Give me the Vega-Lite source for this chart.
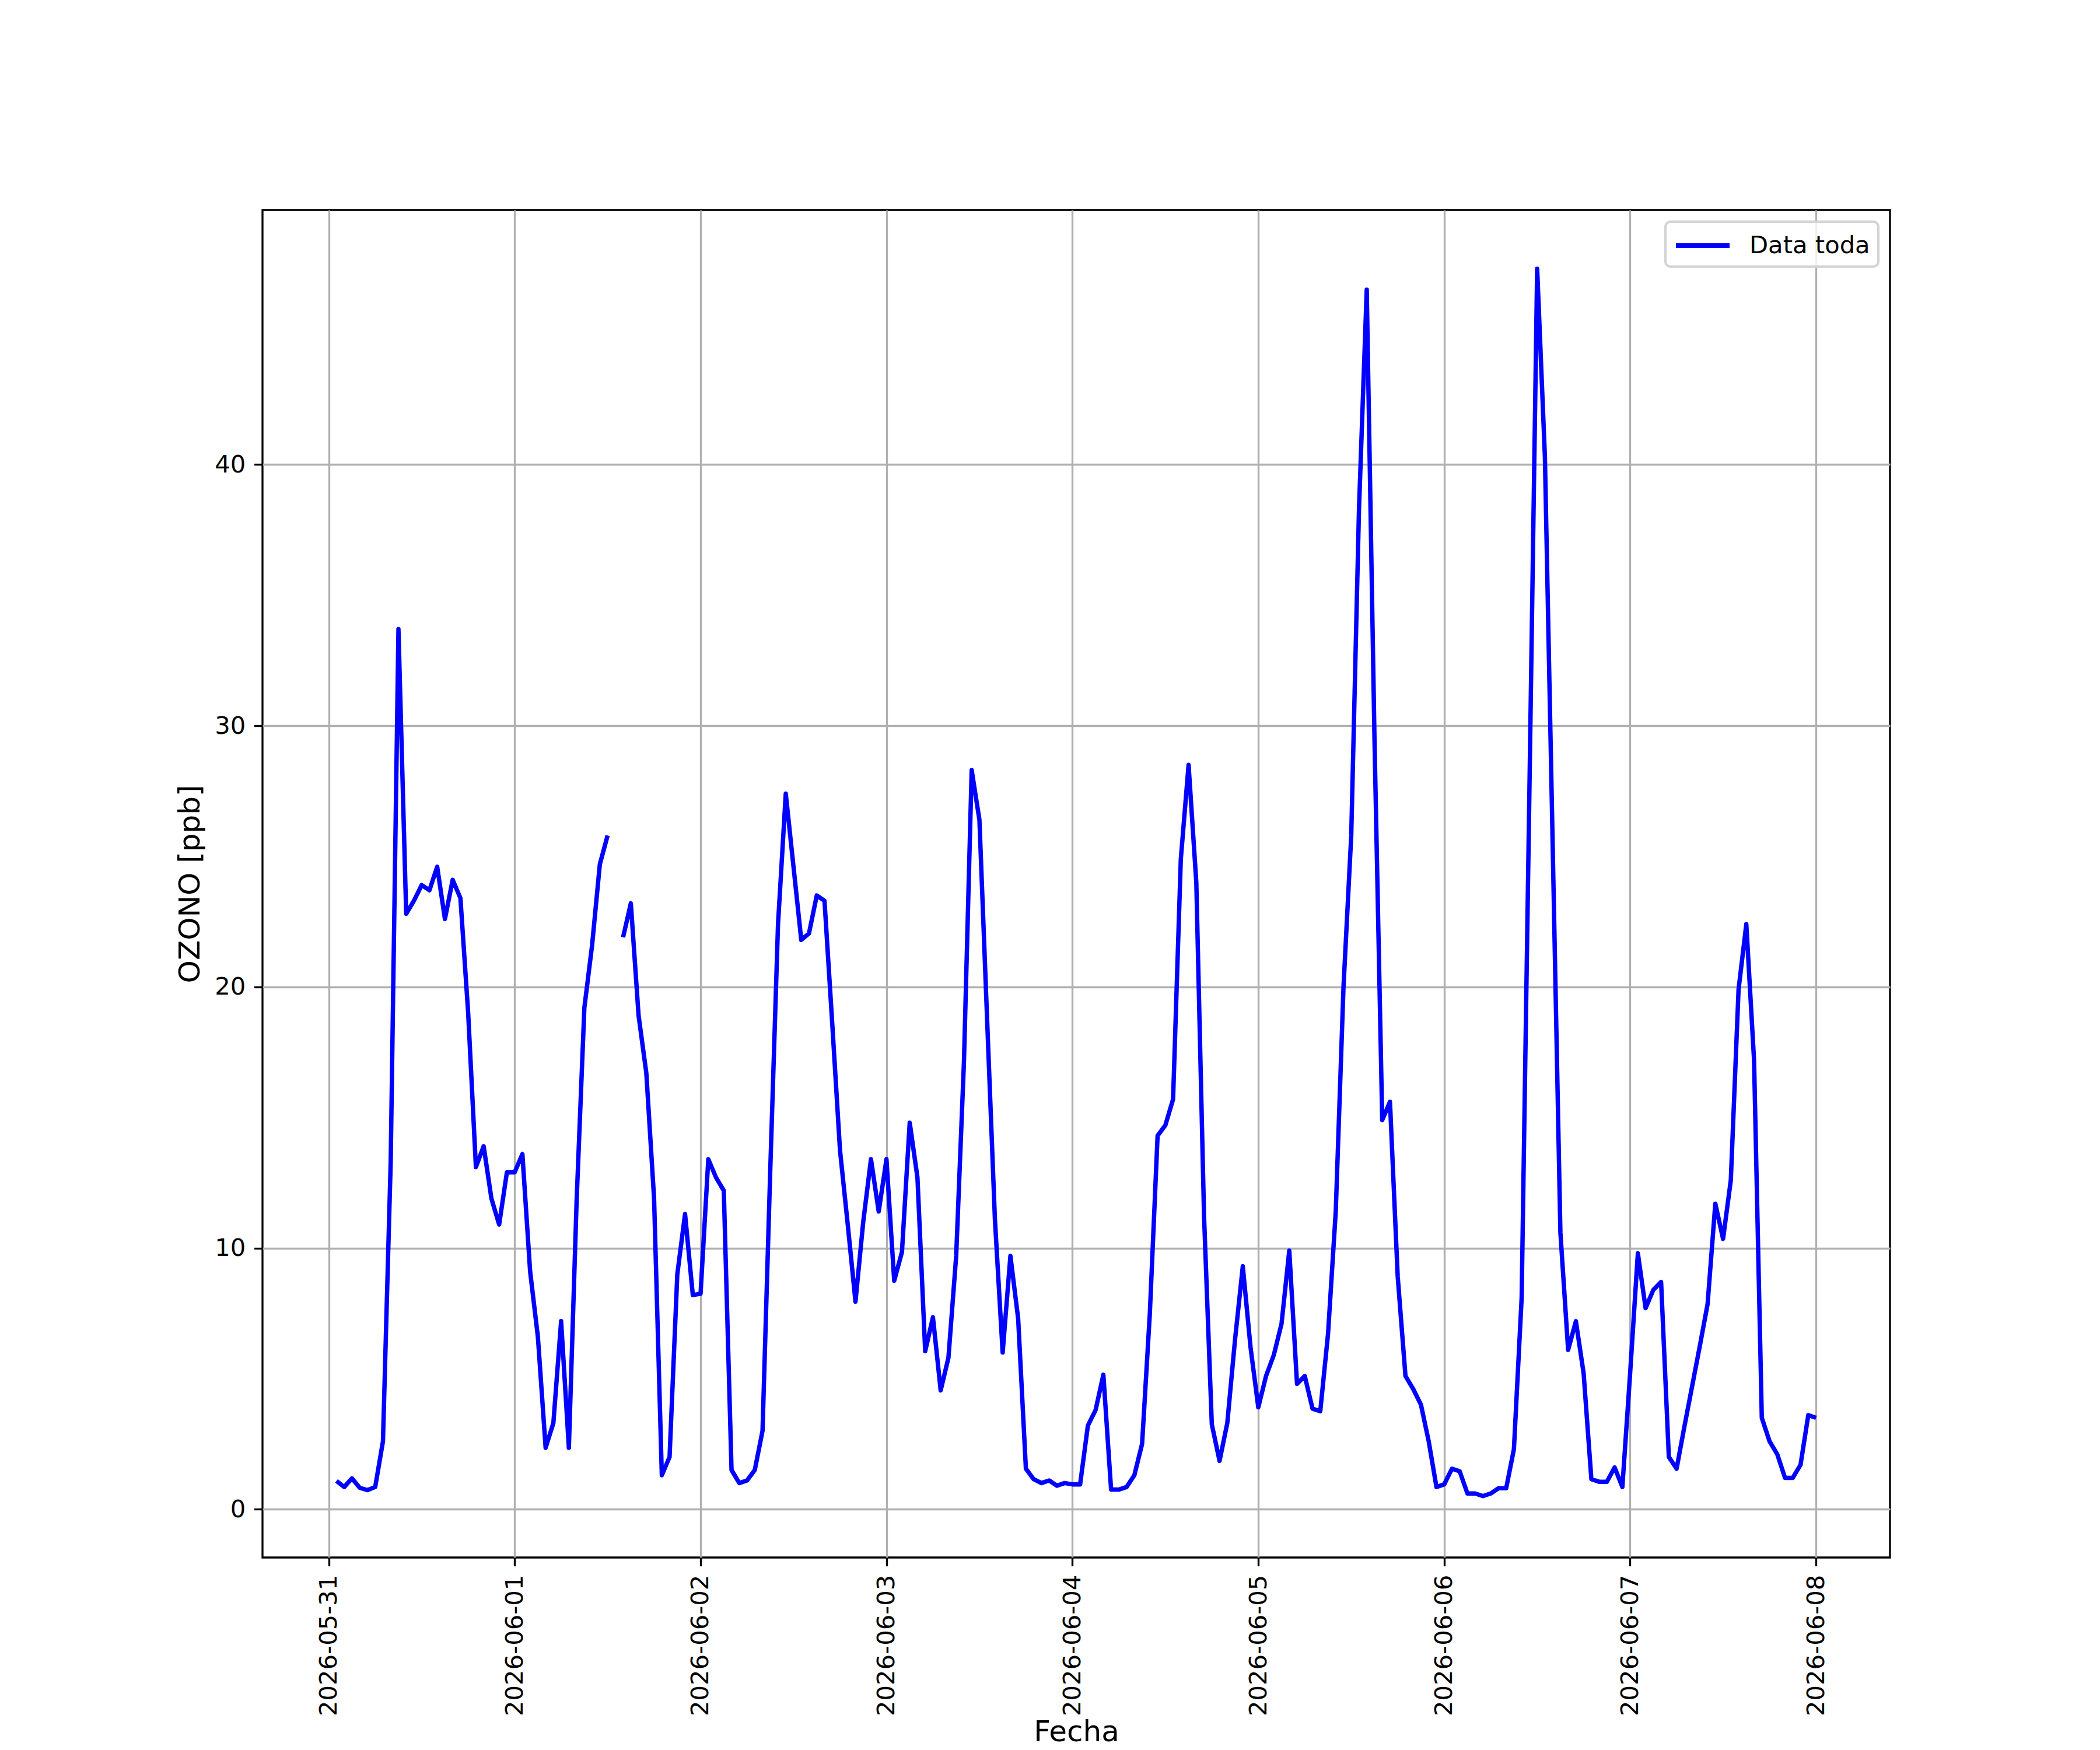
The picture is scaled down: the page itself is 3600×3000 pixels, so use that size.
{
  "$schema": "https://vega.github.io/schema/vega-lite/v6.json",
  "width": 2790,
  "height": 2310,
  "autosize": {"type": "none"},
  "padding": {"left": 450, "top": 360, "right": 360, "bottom": 330},
  "background": "white",
  "config": {
    "font": "DejaVu Sans",
    "view": {"stroke": "black", "strokeWidth": 3.33},
    "legend": {"strokeWidth": 4.2},
    "axis": {
      "domain": false,
      "grid": true,
      "gridColor": "#b0b0b0",
      "gridWidth": 3.33,
      "tickColor": "black",
      "tickWidth": 3.33,
      "tickSize": 14.6,
      "labelPadding": 14.6,
      "labelFont": "DejaVu Sans",
      "labelFontSize": 41.7,
      "labelColor": "black",
      "labelLimit": 0,
      "titleFont": "DejaVu Sans",
      "titleFontSize": 50,
      "titleFontWeight": "normal",
      "titleColor": "black",
      "titlePadding": 16.7
    }
  },
  "data": {
    "values": [
      {"Fecha": "2026-05-31T01:00:00Z", "OZONO": 1.08},
      {"Fecha": "2026-05-31T02:00:00Z", "OZONO": 0.85},
      {"Fecha": "2026-05-31T03:00:00Z", "OZONO": 1.18},
      {"Fecha": "2026-05-31T04:00:00Z", "OZONO": 0.82},
      {"Fecha": "2026-05-31T05:00:00Z", "OZONO": 0.73},
      {"Fecha": "2026-05-31T06:00:00Z", "OZONO": 0.85},
      {"Fecha": "2026-05-31T07:00:00Z", "OZONO": 2.6},
      {"Fecha": "2026-05-31T08:00:00Z", "OZONO": 13.3},
      {"Fecha": "2026-05-31T09:00:00Z", "OZONO": 33.7},
      {"Fecha": "2026-05-31T10:00:00Z", "OZONO": 22.8},
      {"Fecha": "2026-05-31T11:00:00Z", "OZONO": 23.3},
      {"Fecha": "2026-05-31T12:00:00Z", "OZONO": 23.9},
      {"Fecha": "2026-05-31T13:00:00Z", "OZONO": 23.7},
      {"Fecha": "2026-05-31T14:00:00Z", "OZONO": 24.6},
      {"Fecha": "2026-05-31T15:00:00Z", "OZONO": 22.6},
      {"Fecha": "2026-05-31T16:00:00Z", "OZONO": 24.1},
      {"Fecha": "2026-05-31T17:00:00Z", "OZONO": 23.4},
      {"Fecha": "2026-05-31T18:00:00Z", "OZONO": 19.0},
      {"Fecha": "2026-05-31T19:00:00Z", "OZONO": 13.1},
      {"Fecha": "2026-05-31T20:00:00Z", "OZONO": 13.9},
      {"Fecha": "2026-05-31T21:00:00Z", "OZONO": 11.9},
      {"Fecha": "2026-05-31T22:00:00Z", "OZONO": 10.9},
      {"Fecha": "2026-05-31T23:00:00Z", "OZONO": 12.9},
      {"Fecha": "2026-06-01T00:00:00Z", "OZONO": 12.9},
      {"Fecha": "2026-06-01T01:00:00Z", "OZONO": 13.6},
      {"Fecha": "2026-06-01T02:00:00Z", "OZONO": 9.1},
      {"Fecha": "2026-06-01T03:00:00Z", "OZONO": 6.6},
      {"Fecha": "2026-06-01T04:00:00Z", "OZONO": 2.35},
      {"Fecha": "2026-06-01T05:00:00Z", "OZONO": 3.3},
      {"Fecha": "2026-06-01T06:00:00Z", "OZONO": 7.2},
      {"Fecha": "2026-06-01T07:00:00Z", "OZONO": 2.35},
      {"Fecha": "2026-06-01T08:00:00Z", "OZONO": 11.8},
      {"Fecha": "2026-06-01T09:00:00Z", "OZONO": 19.2},
      {"Fecha": "2026-06-01T10:00:00Z", "OZONO": 21.6},
      {"Fecha": "2026-06-01T11:00:00Z", "OZONO": 24.7},
      {"Fecha": "2026-06-01T12:00:00Z", "OZONO": 25.8},
      {"Fecha": "2026-06-01T13:00:00Z", "OZONO": null},
      {"Fecha": "2026-06-01T14:00:00Z", "OZONO": 21.9},
      {"Fecha": "2026-06-01T15:00:00Z", "OZONO": 23.2},
      {"Fecha": "2026-06-01T16:00:00Z", "OZONO": 18.9},
      {"Fecha": "2026-06-01T17:00:00Z", "OZONO": 16.7},
      {"Fecha": "2026-06-01T18:00:00Z", "OZONO": 11.9},
      {"Fecha": "2026-06-01T19:00:00Z", "OZONO": 1.3},
      {"Fecha": "2026-06-01T20:00:00Z", "OZONO": 2.0},
      {"Fecha": "2026-06-01T21:00:00Z", "OZONO": 9.0},
      {"Fecha": "2026-06-01T22:00:00Z", "OZONO": 11.3},
      {"Fecha": "2026-06-01T23:00:00Z", "OZONO": 8.2},
      {"Fecha": "2026-06-02T00:00:00Z", "OZONO": 8.25},
      {"Fecha": "2026-06-02T01:00:00Z", "OZONO": 13.4},
      {"Fecha": "2026-06-02T02:00:00Z", "OZONO": 12.7},
      {"Fecha": "2026-06-02T03:00:00Z", "OZONO": 12.2},
      {"Fecha": "2026-06-02T04:00:00Z", "OZONO": 1.5},
      {"Fecha": "2026-06-02T05:00:00Z", "OZONO": 1.0},
      {"Fecha": "2026-06-02T06:00:00Z", "OZONO": 1.1},
      {"Fecha": "2026-06-02T07:00:00Z", "OZONO": 1.5},
      {"Fecha": "2026-06-02T08:00:00Z", "OZONO": 3.0},
      {"Fecha": "2026-06-02T09:00:00Z", "OZONO": 13.0},
      {"Fecha": "2026-06-02T10:00:00Z", "OZONO": 22.4},
      {"Fecha": "2026-06-02T11:00:00Z", "OZONO": 27.4},
      {"Fecha": "2026-06-02T12:00:00Z", "OZONO": 24.6},
      {"Fecha": "2026-06-02T13:00:00Z", "OZONO": 21.8},
      {"Fecha": "2026-06-02T14:00:00Z", "OZONO": 22.05},
      {"Fecha": "2026-06-02T15:00:00Z", "OZONO": 23.5},
      {"Fecha": "2026-06-02T16:00:00Z", "OZONO": 23.3},
      {"Fecha": "2026-06-02T17:00:00Z", "OZONO": 18.6},
      {"Fecha": "2026-06-02T18:00:00Z", "OZONO": 13.75},
      {"Fecha": "2026-06-02T19:00:00Z", "OZONO": 10.9},
      {"Fecha": "2026-06-02T20:00:00Z", "OZONO": 7.95},
      {"Fecha": "2026-06-02T21:00:00Z", "OZONO": 11.0},
      {"Fecha": "2026-06-02T22:00:00Z", "OZONO": 13.4},
      {"Fecha": "2026-06-02T23:00:00Z", "OZONO": 11.4},
      {"Fecha": "2026-06-03T00:00:00Z", "OZONO": 13.4},
      {"Fecha": "2026-06-03T01:00:00Z", "OZONO": 8.75},
      {"Fecha": "2026-06-03T02:00:00Z", "OZONO": 9.85},
      {"Fecha": "2026-06-03T03:00:00Z", "OZONO": 14.8},
      {"Fecha": "2026-06-03T04:00:00Z", "OZONO": 12.7},
      {"Fecha": "2026-06-03T05:00:00Z", "OZONO": 6.05},
      {"Fecha": "2026-06-03T06:00:00Z", "OZONO": 7.35},
      {"Fecha": "2026-06-03T07:00:00Z", "OZONO": 4.55},
      {"Fecha": "2026-06-03T08:00:00Z", "OZONO": 5.8},
      {"Fecha": "2026-06-03T09:00:00Z", "OZONO": 9.7},
      {"Fecha": "2026-06-03T10:00:00Z", "OZONO": 17.1},
      {"Fecha": "2026-06-03T11:00:00Z", "OZONO": 28.3},
      {"Fecha": "2026-06-03T12:00:00Z", "OZONO": 26.4},
      {"Fecha": "2026-06-03T13:00:00Z", "OZONO": 18.7},
      {"Fecha": "2026-06-03T14:00:00Z", "OZONO": 11.1},
      {"Fecha": "2026-06-03T15:00:00Z", "OZONO": 6.0},
      {"Fecha": "2026-06-03T16:00:00Z", "OZONO": 9.7},
      {"Fecha": "2026-06-03T17:00:00Z", "OZONO": 7.3},
      {"Fecha": "2026-06-03T18:00:00Z", "OZONO": 1.55},
      {"Fecha": "2026-06-03T19:00:00Z", "OZONO": 1.15},
      {"Fecha": "2026-06-03T20:00:00Z", "OZONO": 1.0},
      {"Fecha": "2026-06-03T21:00:00Z", "OZONO": 1.1},
      {"Fecha": "2026-06-03T22:00:00Z", "OZONO": 0.9},
      {"Fecha": "2026-06-03T23:00:00Z", "OZONO": 1.0},
      {"Fecha": "2026-06-04T00:00:00Z", "OZONO": 0.95},
      {"Fecha": "2026-06-04T01:00:00Z", "OZONO": 0.95},
      {"Fecha": "2026-06-04T02:00:00Z", "OZONO": 3.2},
      {"Fecha": "2026-06-04T03:00:00Z", "OZONO": 3.8},
      {"Fecha": "2026-06-04T04:00:00Z", "OZONO": 5.15},
      {"Fecha": "2026-06-04T05:00:00Z", "OZONO": 0.75},
      {"Fecha": "2026-06-04T06:00:00Z", "OZONO": 0.75},
      {"Fecha": "2026-06-04T07:00:00Z", "OZONO": 0.85},
      {"Fecha": "2026-06-04T08:00:00Z", "OZONO": 1.3},
      {"Fecha": "2026-06-04T09:00:00Z", "OZONO": 2.5},
      {"Fecha": "2026-06-04T10:00:00Z", "OZONO": 7.5},
      {"Fecha": "2026-06-04T11:00:00Z", "OZONO": 14.3},
      {"Fecha": "2026-06-04T12:00:00Z", "OZONO": 14.7},
      {"Fecha": "2026-06-04T13:00:00Z", "OZONO": 15.7},
      {"Fecha": "2026-06-04T14:00:00Z", "OZONO": 24.9},
      {"Fecha": "2026-06-04T15:00:00Z", "OZONO": 28.5},
      {"Fecha": "2026-06-04T16:00:00Z", "OZONO": 24.0},
      {"Fecha": "2026-06-04T17:00:00Z", "OZONO": 11.2},
      {"Fecha": "2026-06-04T18:00:00Z", "OZONO": 3.25},
      {"Fecha": "2026-06-04T19:00:00Z", "OZONO": 1.85},
      {"Fecha": "2026-06-04T20:00:00Z", "OZONO": 3.3},
      {"Fecha": "2026-06-04T21:00:00Z", "OZONO": 6.5},
      {"Fecha": "2026-06-04T22:00:00Z", "OZONO": 9.3},
      {"Fecha": "2026-06-04T23:00:00Z", "OZONO": 6.2},
      {"Fecha": "2026-06-05T00:00:00Z", "OZONO": 3.9},
      {"Fecha": "2026-06-05T01:00:00Z", "OZONO": 5.1},
      {"Fecha": "2026-06-05T02:00:00Z", "OZONO": 5.9},
      {"Fecha": "2026-06-05T03:00:00Z", "OZONO": 7.1},
      {"Fecha": "2026-06-05T04:00:00Z", "OZONO": 9.9},
      {"Fecha": "2026-06-05T05:00:00Z", "OZONO": 4.8},
      {"Fecha": "2026-06-05T06:00:00Z", "OZONO": 5.1},
      {"Fecha": "2026-06-05T07:00:00Z", "OZONO": 3.85},
      {"Fecha": "2026-06-05T08:00:00Z", "OZONO": 3.75},
      {"Fecha": "2026-06-05T09:00:00Z", "OZONO": 6.7},
      {"Fecha": "2026-06-05T10:00:00Z", "OZONO": 11.4},
      {"Fecha": "2026-06-05T11:00:00Z", "OZONO": 20.0},
      {"Fecha": "2026-06-05T12:00:00Z", "OZONO": 25.8},
      {"Fecha": "2026-06-05T13:00:00Z", "OZONO": 38.3},
      {"Fecha": "2026-06-05T14:00:00Z", "OZONO": 46.7},
      {"Fecha": "2026-06-05T15:00:00Z", "OZONO": 29.5},
      {"Fecha": "2026-06-05T16:00:00Z", "OZONO": 14.9},
      {"Fecha": "2026-06-05T17:00:00Z", "OZONO": 15.6},
      {"Fecha": "2026-06-05T18:00:00Z", "OZONO": 8.9},
      {"Fecha": "2026-06-05T19:00:00Z", "OZONO": 5.1},
      {"Fecha": "2026-06-05T20:00:00Z", "OZONO": 4.6},
      {"Fecha": "2026-06-05T21:00:00Z", "OZONO": 4.0},
      {"Fecha": "2026-06-05T22:00:00Z", "OZONO": 2.6},
      {"Fecha": "2026-06-05T23:00:00Z", "OZONO": 0.85},
      {"Fecha": "2026-06-06T00:00:00Z", "OZONO": 0.95},
      {"Fecha": "2026-06-06T01:00:00Z", "OZONO": 1.55},
      {"Fecha": "2026-06-06T02:00:00Z", "OZONO": 1.45},
      {"Fecha": "2026-06-06T03:00:00Z", "OZONO": 0.6},
      {"Fecha": "2026-06-06T04:00:00Z", "OZONO": 0.6},
      {"Fecha": "2026-06-06T05:00:00Z", "OZONO": 0.5},
      {"Fecha": "2026-06-06T06:00:00Z", "OZONO": 0.6},
      {"Fecha": "2026-06-06T07:00:00Z", "OZONO": 0.8},
      {"Fecha": "2026-06-06T08:00:00Z", "OZONO": 0.8},
      {"Fecha": "2026-06-06T09:00:00Z", "OZONO": 2.3},
      {"Fecha": "2026-06-06T10:00:00Z", "OZONO": 8.1},
      {"Fecha": "2026-06-06T11:00:00Z", "OZONO": 27.5},
      {"Fecha": "2026-06-06T12:00:00Z", "OZONO": 47.5},
      {"Fecha": "2026-06-06T13:00:00Z", "OZONO": 40.3},
      {"Fecha": "2026-06-06T14:00:00Z", "OZONO": 25.5},
      {"Fecha": "2026-06-06T15:00:00Z", "OZONO": 10.6},
      {"Fecha": "2026-06-06T16:00:00Z", "OZONO": 6.1},
      {"Fecha": "2026-06-06T17:00:00Z", "OZONO": 7.2},
      {"Fecha": "2026-06-06T18:00:00Z", "OZONO": 5.2},
      {"Fecha": "2026-06-06T19:00:00Z", "OZONO": 1.15},
      {"Fecha": "2026-06-06T20:00:00Z", "OZONO": 1.05},
      {"Fecha": "2026-06-06T21:00:00Z", "OZONO": 1.05},
      {"Fecha": "2026-06-06T22:00:00Z", "OZONO": 1.6},
      {"Fecha": "2026-06-06T23:00:00Z", "OZONO": 0.85},
      {"Fecha": "2026-06-07T00:00:00Z", "OZONO": 5.2},
      {"Fecha": "2026-06-07T01:00:00Z", "OZONO": 9.8},
      {"Fecha": "2026-06-07T02:00:00Z", "OZONO": 7.7},
      {"Fecha": "2026-06-07T03:00:00Z", "OZONO": 8.4},
      {"Fecha": "2026-06-07T04:00:00Z", "OZONO": 8.7},
      {"Fecha": "2026-06-07T05:00:00Z", "OZONO": 2.0},
      {"Fecha": "2026-06-07T06:00:00Z", "OZONO": 1.55},
      {"Fecha": "2026-06-07T07:00:00Z", "OZONO": 3.15},
      {"Fecha": "2026-06-07T08:00:00Z", "OZONO": 4.7},
      {"Fecha": "2026-06-07T09:00:00Z", "OZONO": 6.25},
      {"Fecha": "2026-06-07T10:00:00Z", "OZONO": 7.85},
      {"Fecha": "2026-06-07T11:00:00Z", "OZONO": 11.7},
      {"Fecha": "2026-06-07T12:00:00Z", "OZONO": 10.35},
      {"Fecha": "2026-06-07T13:00:00Z", "OZONO": 12.6},
      {"Fecha": "2026-06-07T14:00:00Z", "OZONO": 19.9},
      {"Fecha": "2026-06-07T15:00:00Z", "OZONO": 22.4},
      {"Fecha": "2026-06-07T16:00:00Z", "OZONO": 17.2},
      {"Fecha": "2026-06-07T17:00:00Z", "OZONO": 3.5},
      {"Fecha": "2026-06-07T18:00:00Z", "OZONO": 2.6},
      {"Fecha": "2026-06-07T19:00:00Z", "OZONO": 2.1},
      {"Fecha": "2026-06-07T20:00:00Z", "OZONO": 1.2},
      {"Fecha": "2026-06-07T21:00:00Z", "OZONO": 1.2},
      {"Fecha": "2026-06-07T22:00:00Z", "OZONO": 1.7},
      {"Fecha": "2026-06-07T23:00:00Z", "OZONO": 3.6},
      {"Fecha": "2026-06-08T00:00:00Z", "OZONO": 3.5}
    ]
  },
  "mark": {
    "type": "line",
    "strokeWidth": 7.5,
    "strokeJoin": "round",
    "clip": true,
    "invalid": "break-paths-filter-domains"
  },
  "encoding": {
    "x": {
      "field": "Fecha",
      "type": "temporal",
      "title": "Fecha",
      "scale": {
        "type": "utc",
        "domain": [
          {"year": 2026, "month": "May", "date": 30, "hours": 15, "minutes": 27, "utc": true},
          {"year": 2026, "month": "June", "date": 8, "hours": 9, "minutes": 33, "utc": true}
        ]
      },
      "axis": {
        "values": [
          {"year": 2026, "month": "May", "date": 31, "utc": true},
          {"year": 2026, "month": "June", "date": 1, "utc": true},
          {"year": 2026, "month": "June", "date": 2, "utc": true},
          {"year": 2026, "month": "June", "date": 3, "utc": true},
          {"year": 2026, "month": "June", "date": 4, "utc": true},
          {"year": 2026, "month": "June", "date": 5, "utc": true},
          {"year": 2026, "month": "June", "date": 6, "utc": true},
          {"year": 2026, "month": "June", "date": 7, "utc": true},
          {"year": 2026, "month": "June", "date": 8, "utc": true}
        ],
        "labelExpr": "utcFormat(datum.value, '%Y-%m-%d')",
        "labelAngle": -90,
        "labelAlign": "right",
        "labelBaseline": "middle",
        "labelOverlap": false,
        "labelFlush": false,
        "labelLimit": 0,
        "titleY": 314,
        "titleBaseline": "alphabetic"
      }
    },
    "y": {
      "field": "OZONO",
      "type": "quantitative",
      "title": "OZONO [ppb]",
      "scale": {"domain": [-1.85, 49.75], "nice": false, "zero": false},
      "axis": {"values": [0, 10, 20, 30, 40], "labelFlush": false}
    },
    "color": {
      "datum": "Data toda",
      "scale": {"range": ["#0000ff"]},
      "legend": {
        "title": null,
        "orient": "top-right",
        "offset": 20,
        "padding": 14,
        "strokeColor": "#d4d4d4",
        "cornerRadius": 9,
        "fillColor": "rgba(255,255,255,0.8)",
        "symbolType": "M-1,0H3",
        "symbolSize": 2116,
        "symbolStrokeWidth": 8,
        "labelFont": "DejaVu Sans",
        "labelFontSize": 41.7,
        "labelColor": "black",
        "labelLimit": 0,
        "labelOffset": 76
      }
    }
  }
}
